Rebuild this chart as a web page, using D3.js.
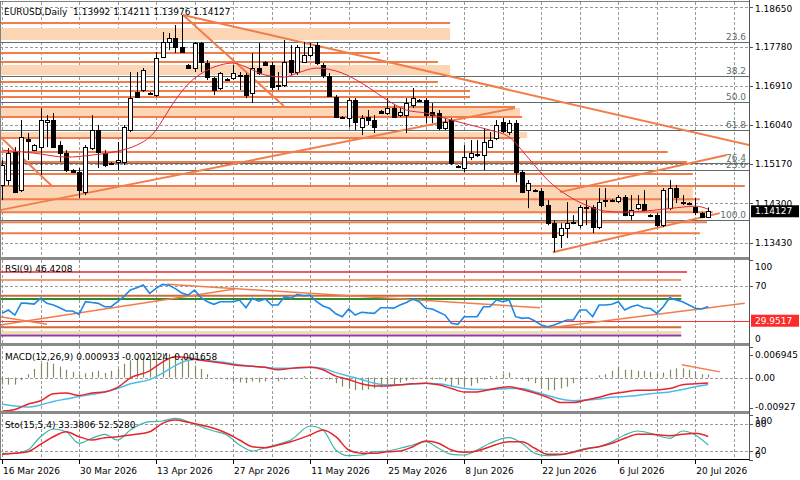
<!DOCTYPE html>
<html>
<head>
<meta charset="utf-8">
<script src="https://cdn.jsdelivr.net/npm/d3@7"></script>
<style>
  body { margin: 0; background: #fff; }
  svg { display: block; }
  text { font-family: "DejaVu Sans", sans-serif; font-size: 9px; white-space: pre; }
</style>
</head>
<body>
<svg id="chart" width="800" height="480"></svg>
<script>
// ---- Data ----

// Candles, one per bar (Sunday bars included)
var opens = [1.14707,1.14818,1.15439,1.14596,1.15728,1.15483,1.15550,1.16105,1.16149,1.15594,
  1.15417,1.15040,1.14995,1.14552,1.15528,1.15927,1.15417,1.15173,1.15217,1.15217,
  1.15927,1.16771,1.16815,1.16748,1.16704,1.17547,1.17880,1.17969,1.17769,1.17370,
  1.17303,1.17858,1.17414,1.17081,1.16859,1.17037,1.17081,1.17148,1.17148,1.16748,
  1.17303,1.17436,1.17370,1.16926,1.16926,1.17481,1.17214,1.17436,1.17592,1.17813,
  1.17370,1.17126,1.16660,1.16216,1.16194,1.16593,1.15994,1.16216,1.16149,1.16349,
  1.16305,1.16415,1.16260,1.16260,1.16482,1.16571,1.16593,1.16327,1.16305,1.15972,
  1.16149,1.15128,1.15084,1.15328,1.15373,1.15373,1.15550,1.15750,1.16105,1.15883,
  1.16083,1.14995,1.14596,1.14574,1.14574,1.14263,1.13864,1.13597,1.13753,1.13886,
  1.13819,1.14219,1.14219,1.13775,1.14352,1.14374,1.14352,1.14441,1.14041,1.14196,
  1.14285,1.14019,1.14041,1.13819,1.14196,1.14640,1.14330,1.14307,1.14219,1.14086,1.13992];
var highs = [1.15262,1.15528,1.15550,1.16149,1.15861,1.15616,1.16415,1.16260,1.16305,1.15683,
  1.15483,1.15062,1.15084,1.15594,1.16260,1.16038,1.15483,1.15217,1.15661,1.16038,
  1.17214,1.17214,1.17303,1.16771,1.17658,1.18102,1.18080,1.18257,1.18480,1.17392,
  1.17880,1.17880,1.17481,1.17103,1.17214,1.17081,1.17370,1.17214,1.17192,1.17636,
  1.17858,1.17458,1.17436,1.17214,1.17924,1.17813,1.17813,1.17880,1.17858,1.17880,
  1.17414,1.17192,1.16704,1.16238,1.16637,1.16637,1.16260,1.16371,1.16260,1.16371,
  1.16637,1.16482,1.16415,1.16637,1.16859,1.16615,1.16637,1.16526,1.16371,1.16194,
  1.16194,1.15151,1.15594,1.15705,1.15705,1.15972,1.15883,1.16149,1.16194,1.16149,
  1.16149,1.15040,1.14818,1.14618,1.14640,1.14374,1.13930,1.13864,1.14330,1.14041,
  1.14263,1.14374,1.14263,1.14640,1.14640,1.14396,1.14485,1.14485,1.14485,1.14485,
  1.14596,1.14063,1.14086,1.14640,1.14818,1.14707,1.14485,1.14330,1.14418,1.14108,1.14211];
var lows = [1.14374,1.14707,1.14529,1.14552,1.15262,1.15461,1.14929,1.15550,1.15528,1.15217,
  1.14995,1.14973,1.14418,1.14485,1.15483,1.15084,1.15106,1.15151,1.15040,1.15151,
  1.15883,1.16637,1.16771,1.16704,1.16660,1.17525,1.17702,1.17636,1.17636,1.17281,
  1.17214,1.17214,1.17037,1.16704,1.16815,1.17015,1.17037,1.16815,1.16637,1.16526,
  1.17148,1.17348,1.16815,1.16815,1.16881,1.17148,1.17148,1.17436,1.17547,1.17370,
  1.17081,1.16660,1.16194,1.16172,1.15994,1.15927,1.15816,1.16038,1.15861,1.16283,
  1.16260,1.16194,1.16216,1.15861,1.16415,1.16549,1.16083,1.16083,1.15927,1.15927,
  1.15151,1.15084,1.14995,1.15262,1.15328,1.15040,1.15550,1.15705,1.15861,1.15816,
  1.14773,1.14529,1.14196,1.14552,1.14219,1.13819,1.13220,1.13309,1.13531,1.13842,
  1.13753,1.13819,1.13642,1.13730,1.14219,1.14330,1.14307,1.14019,1.13930,1.14152,
  1.14130,1.13997,1.13775,1.13775,1.14152,1.14307,1.14263,1.14263,1.14041,1.13975,1.13976];
var closes = [1.15151,1.15417,1.14552,1.15772,1.15683,1.15594,1.16149,1.16149,1.15550,1.15417,
  1.15040,1.14995,1.14596,1.15550,1.15927,1.15439,1.15151,1.15195,1.15262,1.15994,
  1.16637,1.16660,1.17259,1.16726,1.17525,1.17880,1.17969,1.17769,1.17658,1.17303,
  1.17858,1.17436,1.17103,1.16815,1.17192,1.17059,1.17192,1.17126,1.16704,1.17303,
  1.17192,1.17370,1.16881,1.16904,1.17436,1.17214,1.17769,1.17592,1.17769,1.17414,
  1.17148,1.16682,1.16216,1.16194,1.16593,1.16105,1.16194,1.16149,1.15994,1.16305,
  1.16415,1.16216,1.16327,1.16526,1.16637,1.16593,1.16260,1.16260,1.15972,1.16105,
  1.15195,1.15106,1.15328,1.15417,1.15395,1.15661,1.15705,1.16038,1.15905,1.16083,
  1.14995,1.14552,1.14751,1.14596,1.14263,1.13864,1.13553,1.13753,1.13864,1.13864,
  1.14219,1.14196,1.13775,1.14330,1.14374,1.14352,1.14441,1.14041,1.14152,1.14285,
  1.14152,1.14041,1.13819,1.14596,1.14640,1.14441,1.14307,1.14285,1.14108,1.13997,1.14127];

// Moving average on the price window (bar, value)
var maBars = [0,5,10,14,18,21,23,24,25,27,29,32,34,36,38,41,44,46,49,53,57,60,63,66,70,73,76,79,82,85,88,91,94,97,100,103,106,108,110];
var maValues = [1.15483,1.15417,1.15328,1.15373,1.15461,1.15594,1.15772,1.15927,1.16149,1.16593,
  1.16948,1.17259,1.17370,1.17414,1.17325,1.17148,1.17103,1.17192,1.17303,1.17192,
  1.16881,1.16593,1.16371,1.16305,1.16149,1.16038,1.15927,1.15772,1.15306,1.14818,
  1.14485,1.14263,1.14130,1.14108,1.14130,1.14174,1.14219,1.14241,1.14174];

// RSI(9), one value per bar
var rsiValues = [38.5,42.3,36.5,50.4,50.0,49.2,55.8,50.0,48.1,45.0,
  41.2,41.2,37.3,51.9,51.0,50.0,46.1,46.1,51.9,58.0,
  65.4,68.0,71.1,61.6,67.3,71.9,70.8,67.0,62.0,59.6,
  65.4,56.5,51.9,48.9,51.9,51.9,51.9,53.8,45.0,55.8,
  52.5,55.0,48.1,48.1,57.6,55.8,60.4,58.8,59.6,51.9,
  47.0,44.3,38.0,34.6,43.5,36.5,39.7,39.0,38.5,45.0,
  45.0,44.5,48.1,51.0,55.0,51.9,44.3,43.5,40.0,36.5,
  27.0,25.8,34.6,34.6,34.6,46.1,46.1,53.8,51.9,53.8,
  34.6,32.7,33.4,29.6,25.0,23.1,25.0,28.0,30.8,30.8,
  42.3,42.3,34.6,48.1,48.1,48.9,51.9,42.3,46.1,48.1,
  45.0,44.0,38.5,46.1,56.5,53.8,51.9,48.1,44.3,43.5,46.4];

// MACD histogram, one value per bar
var macdHist = [-0.00215,-0.00215,-0.00215,-0.00080,0.00101,0.00263,0.00426,0.00478,0.00426,0.00338,
  0.00240,0.00175,0.00101,0.00133,0.00175,0.00208,0.00143,0.00208,0.00263,0.00426,
  0.00533,0.00588,0.00640,0.00695,0.00751,0.00751,0.00728,0.00695,0.00608,0.00533,
  0.00370,0.00263,0.00101,0.00013,-0.00042,-0.00062,-0.00117,-0.00149,-0.00172,-0.00117,
  -0.00149,-0.00117,-0.00062,-0.00117,-0.00062,-0.00042,-0.00010,0.00045,0.00030,0.00013,
  -0.00020,-0.00062,-0.00172,-0.00280,-0.00335,-0.00387,-0.00387,-0.00367,-0.00335,-0.00302,
  -0.00260,-0.00220,-0.00160,-0.00100,-0.00060,-0.00020,-0.00050,-0.00062,-0.00050,-0.00117,
  -0.00280,-0.00224,-0.00257,-0.00257,-0.00172,-0.00062,0.00045,0.00045,0.00101,0.00153,
  -0.00010,-0.00062,-0.00117,-0.00172,-0.00335,-0.00387,-0.00387,-0.00335,-0.00280,-0.00172,
  -0.00085,-0.00020,0.00000,0.00068,0.00101,0.00208,0.00315,0.00240,0.00240,0.00208,
  0.00208,0.00175,0.00133,0.00153,0.00240,0.00283,0.00283,0.00240,0.00175,0.00101,0.00093];

// Bars where the indicator lines were read
var sampleBars = [0,2,4,6,8,10,12,14,16,18,20,23,25,27,29,31,33,35,37,39,
  41,43,45,48,50,52,54,56,58,60,62,64,66,68,70,72,74,76,79,81,
  83,85,87,89,91,93,95,97,99,101,104,106,108,110];
var macdMain = [-0.01037,-0.00985,-0.00822,-0.00712,-0.00497,-0.00474,-0.00549,-0.00474,-0.00442,-0.00302,
  -0.00010,0.00208,0.00478,0.00640,0.00608,0.00533,0.00478,0.00426,0.00370,0.00348,
  0.00315,0.00240,0.00283,0.00315,0.00240,0.00045,-0.00062,-0.00192,-0.00257,-0.00257,
  -0.00224,-0.00192,-0.00172,-0.00224,-0.00335,-0.00442,-0.00442,-0.00367,-0.00280,-0.00367,
  -0.00474,-0.00604,-0.00767,-0.00767,-0.00692,-0.00604,-0.00497,-0.00442,-0.00387,-0.00387,
  -0.00335,-0.00224,-0.00192,-0.00166];
var macdSignal = [-0.00822,-0.00874,-0.00907,-0.00842,-0.00734,-0.00660,-0.00582,-0.00517,-0.00442,-0.00335,
  -0.00192,-0.00062,0.00133,0.00370,0.00533,0.00565,0.00500,0.00458,0.00393,0.00348,
  0.00315,0.00283,0.00283,0.00315,0.00283,0.00153,0.00045,-0.00062,-0.00172,-0.00224,
  -0.00224,-0.00192,-0.00172,-0.00192,-0.00257,-0.00335,-0.00367,-0.00367,-0.00335,-0.00335,
  -0.00442,-0.00549,-0.00660,-0.00712,-0.00692,-0.00660,-0.00604,-0.00582,-0.00549,-0.00497,
  -0.00442,-0.00367,-0.00280,-0.00212];
var stochMain = [14.8,14.8,22.2,52.1,69.4,63.4,37.3,48.5,57.5,44.7,
  67.2,85.8,87.4,93.5,85.8,74.6,64.9,56.0,33.5,20.0,
  27.4,35.1,44.7,76.2,67.2,22.2,9.4,11.0,18.4,20.0,
  26.1,33.5,40.9,26.1,12.6,11.0,22.2,37.3,49.9,37.3,
  14.8,9.4,11.0,18.4,26.1,29.7,40.9,56.0,64.9,59.8,
  48.5,64.9,56.0,33.4];
var stochSignal = [12.6,14.8,18.4,35.1,52.1,63.4,52.1,44.7,49.9,52.1,
  56.0,63.4,82.2,89.7,84.5,78.4,71.0,59.8,44.7,29.7,
  27.4,33.5,40.9,56.0,67.2,52.1,22.2,14.8,14.8,18.4,
  20.0,29.7,42.5,37.3,22.2,17.1,20.0,29.7,40.9,40.9,
  26.1,12.6,12.6,17.1,24.5,29.7,37.3,48.5,57.5,57.5,
  54.4,57.5,59.8,52.5];

// Axis labels
var priceTicks = [1.18650, 1.17780, 1.16910, 1.16040, 1.15170, 1.14300, 1.13430];
var dateLabels = ["16 Mar 2026","30 Mar 2026","13 Apr 2026","27 Apr 2026","11 May 2026",
  "25 May 2026","8 Jun 2026","22 Jun 2026","6 Jul 2026","20 Jul 2026"];
var dateBars = [0, 12, 24, 36, 48, 60, 72, 84, 96, 108];
var rsiTicks = [100, 70, 0];
var macdTicks = [0.006945, 0, -0.00927];
var macdTickText = ["0.006945", "0.00", "-0.00927"];
var stochTicks = [100, 80, 20, 0];

// Drawn objects on the price window
var hLinePrices = [1.18302,1.17636,1.17436,1.16993,1.16793,1.16660,1.16438,1.16216,1.15750,
  1.15439,1.15217,1.14951,1.14685,1.14396,1.14108,1.13886,1.13642];
var hLineEnds = [69.8,58.9,67.9,67.9,72.9,72.9,79.9,81.0,80.7,103.7,106.7,107.6,115.7,108.7,110.7,109.8,108.7];
var bandTops = [1.18191, 1.17370, 1.16415, 1.15883, 1.14662];
var bandBottoms = [1.17924, 1.17148, 1.16216, 1.15750, 1.14108];
var bandEnds = [69.8, 69.8, 80.7, 81.8, 107.6];
var fibLevels = ["23.6", "38.2", "50.0", "61.8", "76.4", "23.6", "100.0"];
var fibPrices = [1.17880, 1.17126, 1.16549, 1.15927, 1.15195, 1.15040, 1.13930];
// trendlines: [bar1, price1, bar2, price2]
var trendLines = [
  [28.2, 1.18479, 116.4, 1.15594],
  [28.2, 1.18479, 43.9, 1.16460],
  [-0.3, 1.14152, 79.9, 1.16415],
  [-0.3, 1.15779, 7.9, 1.14669],
  [85.8, 1.13220, 111.8, 1.14086],
  [86.9, 1.14552, 112.9, 1.15373]
];

// Drawn objects on the RSI window
var rsiLevelValues = [86.1, 76.9, 58.8, 55.0, 22.4, 16.5, 12.9];
var rsiLevelEnds = [106.7, 105.8, 105.8, 105.8, 105.8, 105.8, 105.8];
var rsiMarkLine = 29.9517;
var rsiTrendLines = [
  [-0.3, 25.0, 36.3, 66.5],
  [25.7, 71.9, 83.8, 45.0],
  [-0.3, 34.6, 7.0, 25.8],
  [85.4, 21.9, 115.7, 50.0]
];
var macdTrendLines = [[105.9, 0.00393, 111.8, 0.00175]];

// ---- Layout ----
var width = 800, height = 480;
var plotRight = 749;
var panels = {
  main:  { top: 2,   bottom: 257 },
  rsi:   { top: 260, bottom: 343 },
  macd:  { top: 346, bottom: 411 },
  stoch: { top: 414, bottom: 459 }
};

var orange = "#f27d4a";
var peach = "#fcd6b4";
var fibGray = "#5c6d6d";

var svg = d3.select("#chart");

// Scales
var x = d3.scaleLinear().domain([0, 110]).range([2, 708.2]);
var yMain = d3.scaleLinear().domain([1.13430, 1.18650]).range([242.7, 7.3]);
var yRsi = d3.scaleLinear().domain([0, 100]).range([346.7, 260]);
var yMacd = d3.scaleLinear().domain([-0.00927, 0.006945]).range([407.7, 355]);
var yStoch = d3.scaleLinear().domain([0, 100]).range([459.9, 415.4]);

var defs = svg.append("defs");
Object.keys(panels).forEach(function (k) {
  defs.append("clipPath").attr("id", "clip-" + k)
    .append("rect")
    .attr("x", 0).attr("y", panels[k].top)
    .attr("width", plotRight).attr("height", panels[k].bottom - panels[k].top);
});

function panelGroup(k) {
  return svg.append("g").attr("clip-path", "url(#clip-" + k + ")");
}

// crisp pixel helper
function px(v) { return Math.round(v) + 0.5; }

// Vertical weekly grid, every 6 bars, all windows
var gridBars = d3.range(0, 115, 6);
Object.keys(panels).forEach(function (k) {
  var g = panelGroup(k);
  g.selectAll("line.vgrid").data(gridBars).enter().append("line")
    .attr("x1", function (d) { return px(x(d)); })
    .attr("x2", function (d) { return px(x(d)); })
    .attr("y1", panels[k].top).attr("y2", panels[k].bottom)
    .attr("stroke", "#9a9a9a").attr("stroke-dasharray", "3,2").attr("stroke-width", 1);
});

// ---------------- Main window ----------------
var gMain = panelGroup("main");

gMain.selectAll("line.hgrid").data(priceTicks).enter().append("line")
  .attr("x1", 0).attr("x2", plotRight)
  .attr("y1", function (d) { return px(yMain(d)); })
  .attr("y2", function (d) { return px(yMain(d)); })
  .attr("stroke", "#9a9a9a").attr("stroke-dasharray", "3,2");

// peach zones
gMain.selectAll("rect.band").data(bandTops).enter().append("rect")
  .attr("x", 0)
  .attr("y", function (d) { return yMain(d); })
  .attr("width", function (d, i) { return x(bandEnds[i]); })
  .attr("height", function (d, i) { return yMain(bandBottoms[i]) - yMain(d); })
  .attr("fill", peach);

// fibonacci levels
gMain.selectAll("line.fib").data(fibPrices).enter().append("line")
  .attr("x1", 0).attr("x2", plotRight)
  .attr("y1", function (d) { return px(yMain(d)); })
  .attr("y2", function (d) { return px(yMain(d)); })
  .attr("stroke", fibGray).attr("stroke-width", 1.2);
gMain.selectAll("text.fib").data(fibPrices).enter().append("text")
  .attr("x", 746).attr("y", function (d) { return yMain(d) - 2; })
  .attr("text-anchor", "end").attr("fill", fibGray)
  .text(function (d, i) { return fibLevels[i]; });

// orange horizontal lines
gMain.selectAll("line.hl").data(hLinePrices).enter().append("line")
  .attr("x1", 0)
  .attr("x2", function (d, i) { return x(hLineEnds[i]); })
  .attr("y1", function (d) { return yMain(d); })
  .attr("y2", function (d) { return yMain(d); })
  .attr("stroke", orange).attr("stroke-width", 2);

// trendlines
gMain.selectAll("line.tl").data(trendLines).enter().append("line")
  .attr("x1", function (d) { return x(d[0]); })
  .attr("y1", function (d) { return yMain(d[1]); })
  .attr("x2", function (d) { return x(d[2]); })
  .attr("y2", function (d) { return yMain(d[3]); })
  .attr("stroke", orange).attr("stroke-width", 2);

// candles
var bars = d3.range(opens.length);
var candle = gMain.selectAll("g.candle").data(bars).enter().append("g");
candle.append("line")
  .attr("x1", function (i) { return px(x(i)); })
  .attr("x2", function (i) { return px(x(i)); })
  .attr("y1", function (i) { return yMain(highs[i]); })
  .attr("y2", function (i) { return yMain(lows[i]); })
  .attr("stroke", "#000").attr("stroke-width", 1);
candle.append("rect")
  .attr("x", function (i) { return px(x(i)) - 2; })
  .attr("width", 4)
  .attr("y", function (i) { return Math.round(yMain(Math.max(opens[i], closes[i]))) + 0.5; })
  .attr("height", function (i) {
    return Math.max(0.5, Math.round(Math.abs(yMain(opens[i]) - yMain(closes[i]))));
  })
  .attr("fill", function (i) { return closes[i] >= opens[i] ? "#fff" : "#000"; })
  .attr("stroke", "#000").attr("stroke-width", 1);

// moving average
gMain.append("path")
  .datum(maBars)
  .attr("d", d3.line()
    .x(function (d) { return x(d); })
    .y(function (d, i) { return yMain(maValues[i]); })
    .curve(d3.curveMonotoneX))
  .attr("fill", "none").attr("stroke", "#e0283c").attr("stroke-width", 1);

svg.append("text").attr("x", 4).attr("y", 15).attr("fill", "#000")
  .text("EURUSD,Daily  1.13992 1.14211 1.13976 1.14127");

// ---------------- RSI window ----------------
var gRsi = panelGroup("rsi");
gRsi.selectAll("line.lvl").data([70, 30]).enter().append("line")
  .attr("x1", 0).attr("x2", plotRight)
  .attr("y1", function (d) { return px(yRsi(d)); })
  .attr("y2", function (d) { return px(yRsi(d)); })
  .attr("stroke", "#9a9a9a").attr("stroke-dasharray", "3,2");

var rsiLevelColors = ["#e8262a", orange, "#d06a3a", "#2e8b30", "#d06a3a", "#f1dcb8", "#8b3c9c"];
var rsiLevelWidths = [1.5, 1.5, 2, 2, 2, 3, 2];
gRsi.selectAll("line.rl").data(rsiLevelValues).enter().append("line")
  .attr("x1", 0)
  .attr("x2", function (d, i) { return x(rsiLevelEnds[i]); })
  .attr("y1", function (d) { return yRsi(d); })
  .attr("y2", function (d) { return yRsi(d); })
  .attr("stroke", function (d, i) { return rsiLevelColors[i]; })
  .attr("stroke-width", function (d, i) { return rsiLevelWidths[i]; });

gRsi.append("line")
  .attr("x1", 0).attr("x2", plotRight)
  .attr("y1", px(yRsi(rsiMarkLine))).attr("y2", px(yRsi(rsiMarkLine)))
  .attr("stroke", "#ff3030").attr("stroke-width", 1);

gRsi.selectAll("line.rt").data(rsiTrendLines).enter().append("line")
  .attr("x1", function (d) { return x(d[0]); })
  .attr("y1", function (d) { return yRsi(d[1]); })
  .attr("x2", function (d) { return x(d[2]); })
  .attr("y2", function (d) { return yRsi(d[3]); })
  .attr("stroke", orange).attr("stroke-width", 1.5);

gRsi.append("path")
  .datum(rsiValues)
  .attr("d", d3.line()
    .x(function (d, i) { return x(i); })
    .y(function (d) { return yRsi(d); }))
  .attr("fill", "none").attr("stroke", "#1e88e5").attr("stroke-width", 1.6);

svg.append("text").attr("x", 5).attr("y", 272).attr("fill", "#000").text("RSI(9) 46.4208");

// ---------------- MACD window ----------------
var gMacd = panelGroup("macd");
gMacd.append("line")
  .attr("x1", 0).attr("x2", plotRight)
  .attr("y1", px(yMacd(0))).attr("y2", px(yMacd(0)))
  .attr("stroke", "#9a9a9a").attr("stroke-dasharray", "3,2");

gMacd.selectAll("line.hist").data(macdHist).enter().append("line")
  .attr("x1", function (d, i) { return px(x(i)); })
  .attr("x2", function (d, i) { return px(x(i)); })
  .attr("y1", yMacd(0))
  .attr("y2", function (d) { return yMacd(d); })
  .attr("stroke", "#838a5e").attr("stroke-width", 1.2);

var sampleLine = function (scale, values) {
  return d3.line()
    .x(function (d) { return x(d); })
    .y(function (d, i) { return scale(values[i]); })
    .curve(d3.curveMonotoneX);
};

gMacd.append("path").datum(sampleBars)
  .attr("d", sampleLine(yMacd, macdSignal))
  .attr("fill", "none").attr("stroke", "#4dbbe8").attr("stroke-width", 1.5);
gMacd.append("path").datum(sampleBars)
  .attr("d", sampleLine(yMacd, macdMain))
  .attr("fill", "none").attr("stroke", "#e8242c").attr("stroke-width", 1.5);

gMacd.selectAll("line.mt").data(macdTrendLines).enter().append("line")
  .attr("x1", function (d) { return x(d[0]); })
  .attr("y1", function (d) { return yMacd(d[1]); })
  .attr("x2", function (d) { return x(d[2]); })
  .attr("y2", function (d) { return yMacd(d[3]); })
  .attr("stroke", orange).attr("stroke-width", 1.5);

svg.append("text").attr("x", 5).attr("y", 360).attr("fill", "#000")
  .text("MACD(12,26,9) 0.000933 -0.002124 -0.001658");

// ---------------- Stochastic window ----------------
var gSto = panelGroup("stoch");
gSto.selectAll("line.lvl").data([80, 20]).enter().append("line")
  .attr("x1", 0).attr("x2", plotRight)
  .attr("y1", function (d) { return px(yStoch(d)); })
  .attr("y2", function (d) { return px(yStoch(d)); })
  .attr("stroke", "#9a9a9a").attr("stroke-dasharray", "3,2");

gSto.append("path").datum(sampleBars)
  .attr("d", sampleLine(yStoch, stochMain))
  .attr("fill", "none").attr("stroke", "#3bb5a6").attr("stroke-width", 1.2);
gSto.append("path").datum(sampleBars)
  .attr("d", sampleLine(yStoch, stochSignal))
  .attr("fill", "none").attr("stroke", "#e8242c").attr("stroke-width", 1.5);

svg.append("text").attr("x", 5).attr("y", 428).attr("fill", "#000")
  .text("Sto(15,5,4) 33.3806 52.5280");

// ---------------- Frames and separators ----------------
svg.append("line").attr("x1", 0).attr("x2", plotRight).attr("y1", 1.5).attr("y2", 1.5)
  .attr("stroke", "#808080");
svg.append("line").attr("x1", 0.5).attr("x2", 0.5).attr("y1", 1).attr("y2", 460)
  .attr("stroke", "#808080");
[257, 343, 411].forEach(function (yy) {
  svg.append("rect").attr("x", 0).attr("y", yy).attr("width", plotRight + 1).attr("height", 3)
    .attr("fill", "#8a8a8a");
});
svg.append("line").attr("x1", 0).attr("x2", plotRight + 1).attr("y1", 459.5).attr("y2", 459.5)
  .attr("stroke", "#000");
svg.append("line").attr("x1", plotRight + 0.5).attr("x2", plotRight + 0.5).attr("y1", 0).attr("y2", 460)
  .attr("stroke", "#555").attr("stroke-width", 1);

// ---------------- Right-hand axis labels ----------------
function clampY(v, k) {
  return Math.max(panels[k].top + 7, Math.min(panels[k].bottom - 4, v));
}
function axisLabels(values, scale, k, fmt) {
  values.forEach(function (v, i) {
    var yy = clampY(scale(v), k);
    svg.append("line").attr("x1", plotRight).attr("x2", plotRight + 4)
      .attr("y1", px(scale(v))).attr("y2", px(scale(v))).attr("stroke", "#555");
    svg.append("text").attr("x", 755).attr("y", yy).attr("dy", "0.35em")
      .attr("fill", "#000").text(fmt(v, i));
  });
}
axisLabels(priceTicks, yMain, "main", function (v) { return v.toFixed(5); });
axisLabels(rsiTicks, yRsi, "rsi", function (v) { return String(v); });
axisLabels(macdTicks, yMacd, "macd", function (v, i) { return macdTickText[i]; });
axisLabels(stochTicks, yStoch, "stoch", function (v) { return String(v); });

// current price box
var lastClose = closes[closes.length - 1];
svg.append("rect").attr("x", 751).attr("y", yMain(lastClose) - 6).attr("width", 48).attr("height", 12)
  .attr("fill", "#000");
svg.append("text").attr("x", 755).attr("y", yMain(lastClose)).attr("dy", "0.35em")
  .attr("fill", "#fff").text(lastClose.toFixed(5));

// RSI marker line label
svg.append("rect").attr("x", 751).attr("y", yRsi(rsiMarkLine) - 6).attr("width", 48).attr("height", 12)
  .attr("fill", "#ff2a2a");
svg.append("text").attr("x", 755).attr("y", yRsi(rsiMarkLine)).attr("dy", "0.35em")
  .attr("fill", "#fff").text(rsiMarkLine.toFixed(4));

// ---------------- Date axis ----------------
dateBars.forEach(function (b, i) {
  svg.append("line").attr("x1", px(x(b))).attr("x2", px(x(b)))
    .attr("y1", 460).attr("y2", 464).attr("stroke", "#000");
  svg.append("text").attr("x", x(b) + 1).attr("y", 471).attr("dy", "0.35em")
    .attr("fill", "#000").text(dateLabels[i]);
});
</script>
</body>
</html>
